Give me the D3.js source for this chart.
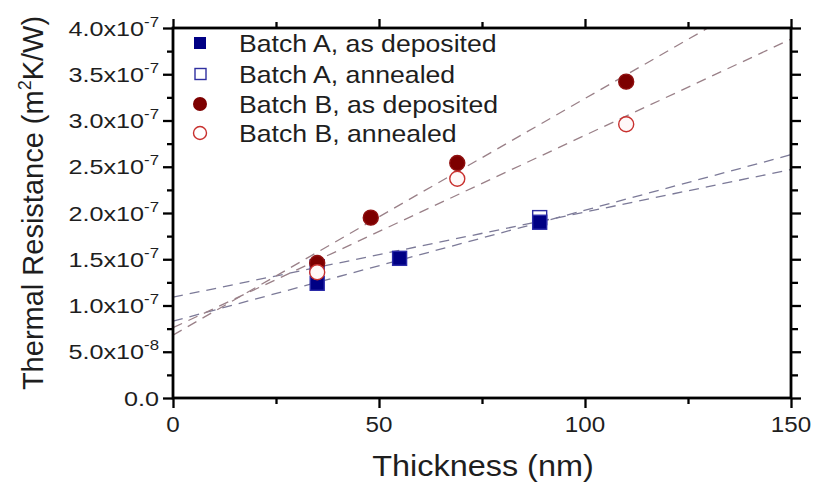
<!DOCTYPE html>
<html><head><meta charset="utf-8">
<script src="https://cdn.jsdelivr.net/npm/d3@7"></script>
<style>
body{margin:0;background:#fff}
svg{display:block}
text{font-family:"Liberation Sans",Arial,sans-serif;fill:#1e1e1e}
</style>
</head><body>
<svg id="c" width="815" height="488"></svg>
<script>
// ---- data ----
const aDepX = [35, 55, 89];
const aDepY = [1.24e-7, 1.51e-7, 1.90e-7];
const aAnnX = [35, 89];
const aAnnY = [1.42e-7, 1.95e-7];
const bDepX = [35, 48, 69, 110];
const bDepY = [1.46e-7, 1.95e-7, 2.54e-7, 3.42e-7];
const bAnnX = [35, 69, 110];
const bAnnY = [1.36e-7, 2.37e-7, 2.96e-7];

// dashed linear fits (end points)
const fitNames = ["A dep", "A ann", "B dep", "B ann"];
const fitX0 = [0, 0, 0, 0];
const fitY0 = [0.83e-7, 1.09e-7, 0.68e-7, 0.76e-7];
const fitX1 = [150, 150, 129.8, 150];
const fitY1 = [2.63e-7, 2.47e-7, 4.0e-7, 3.88e-7];

const xTicks = [0, 50, 100, 150];
const xMinor = [25, 75, 125];
const xTickLabels = ["0", "50", "100", "150"];
const yTicks = [0, 0.5e-7, 1.0e-7, 1.5e-7, 2.0e-7, 2.5e-7, 3.0e-7, 3.5e-7, 4.0e-7];
const yMinor = [0.25e-7, 0.75e-7, 1.25e-7, 1.75e-7, 2.25e-7, 2.75e-7, 3.25e-7, 3.75e-7];
const yTickMant = ["0.0", "5.0x10", "1.0x10", "1.5x10", "2.0x10", "2.5x10", "3.0x10", "3.5x10", "4.0x10"];
const yTickExp = ["", "-8", "-7", "-7", "-7", "-7", "-7", "-7", "-7"];
const legendLabels = ["Batch A, as deposited", "Batch A, annealed", "Batch B, as deposited", "Batch B, annealed"];

// ---- drawing ----
const svg = d3.select("#c");
const L = 173, R = 791, T = 28, B = 398;
const x = d3.scaleLinear().domain([0, 150]).range([L, R]);
const y = d3.scaleLinear().domain([0, 4e-7]).range([B, T]);

const navy = "#000084", darkRed = "#7d0000", openRed = "#c8302e";
const fitColors = ["#7c7a98", "#7c7a98", "#9a8088", "#9a8088"];

// fit lines
const gFit = svg.append("g");
fitNames.forEach((n, i) => {
  gFit.append("line")
    .attr("x1", x(fitX0[i])).attr("y1", y(fitY0[i]))
    .attr("x2", x(fitX1[i])).attr("y2", y(fitY1[i]))
    .attr("stroke", fitColors[i]).attr("stroke-width", 1.3)
    .attr("stroke-dasharray", "10,7");
});

// axes ticks
function ticks(axisFn, vals, size, transform) {
  const g = svg.append("g").attr("transform", transform)
    .call(axisFn.tickValues(vals).tickSize(size).tickSizeOuter(0).tickFormat(""));
  g.select(".domain").remove();
  g.selectAll(".tick line").attr("stroke", "#000").attr("stroke-width", 2.3);
}
ticks(d3.axisBottom(x), xTicks, 10, `translate(0,${B})`);
ticks(d3.axisBottom(x), xMinor, 6, `translate(0,${B})`);
ticks(d3.axisTop(x), xTicks, 9, `translate(0,${T})`);
ticks(d3.axisTop(x), xMinor, 6, `translate(0,${T})`);
ticks(d3.axisLeft(y), yTicks, 10, `translate(${L},0)`);
ticks(d3.axisLeft(y), yMinor, 6, `translate(${L},0)`);
ticks(d3.axisRight(y), yTicks, 10, `translate(${R},0)`);
ticks(d3.axisRight(y), yMinor, 7, `translate(${R},0)`);

svg.append("rect").attr("x", L).attr("y", T).attr("width", R - L).attr("height", B - T)
  .attr("fill", "none").attr("stroke", "#000").attr("stroke-width", 2.8);

// x tick labels
svg.append("g").selectAll("text").data(xTicks).join("text")
  .attr("transform", (d) => `translate(${x(d)},432) scale(1.1,1)`)
  .attr("text-anchor", "middle").attr("font-size", 22)
  .text((d, i) => xTickLabels[i]);

// y tick labels
const yl = svg.append("g").selectAll("text").data(yTicks).join("text")
  .attr("transform", (d) => `translate(159,${y(d) + 7.5}) scale(1.2,1)`)
  .attr("text-anchor", "end").attr("font-size", 21);
yl.append("tspan").text((d, i) => yTickMant[i]);
yl.append("tspan").attr("font-size", 14).attr("dy", -9).text((d, i) => yTickExp[i]);

// axis titles
svg.append("text").attr("transform", "translate(483,476) scale(1.08,1)")
  .attr("text-anchor", "middle").attr("font-size", 30).text("Thickness (nm)");
const yt = svg.append("text").attr("transform", "translate(43,203) rotate(-90)")
  .attr("text-anchor", "middle").attr("font-size", 29);
yt.append("tspan").text("Thermal Resistance (m");
yt.append("tspan").attr("font-size", 18).attr("dy", -12).text("2");
yt.append("tspan").attr("dy", 12).text("K/W)");

// markers
const sq = 14, rr = 7.5;
function squares(xs, ys, fill, stroke) {
  svg.append("g").selectAll("rect").data(xs).join("rect")
    .attr("x", (d) => x(d) - sq / 2).attr("y", (d, i) => y(ys[i]) - sq / 2)
    .attr("width", sq).attr("height", sq)
    .attr("fill", fill).attr("stroke", stroke).attr("stroke-width", 1.4);
}
function circles(xs, ys, fill, stroke) {
  svg.append("g").selectAll("circle").data(xs).join("circle")
    .attr("cx", (d) => x(d)).attr("cy", (d, i) => y(ys[i])).attr("r", rr)
    .attr("fill", fill).attr("stroke", stroke).attr("stroke-width", 1.4);
}
squares(aAnnX, aAnnY, "#fff", "#3030a0");
squares(aDepX, aDepY, navy, "#2a2aa8");
circles(bDepX, bDepY, darkRed, "#901010");
circles(bAnnX, bAnnY, "#fff8f8", openRed);

// legend
const rows = [43, 74, 104, 133];
const lg = svg.append("g");
lg.append("rect").attr("x", 194).attr("y", rows[0] - 6).attr("width", 12).attr("height", 12).attr("fill", navy);
lg.append("rect").attr("x", 195).attr("y", rows[1] - 5.5).attr("width", 11).attr("height", 11)
  .attr("fill", "#fff").attr("stroke", "#3030a0").attr("stroke-width", 1.4);
lg.append("circle").attr("cx", 200).attr("cy", rows[2]).attr("r", 7).attr("fill", darkRed);
lg.append("circle").attr("cx", 200).attr("cy", rows[3]).attr("r", 6.5).attr("fill", "#fff").attr("stroke", openRed).attr("stroke-width", 1.4);
lg.selectAll("text").data(legendLabels).join("text")
  .attr("transform", (d, i) => `translate(239,${rows[i] + 8.5}) scale(1.11,1)`)
  .attr("font-size", 24).text((d) => d);
</script>
</body></html>
